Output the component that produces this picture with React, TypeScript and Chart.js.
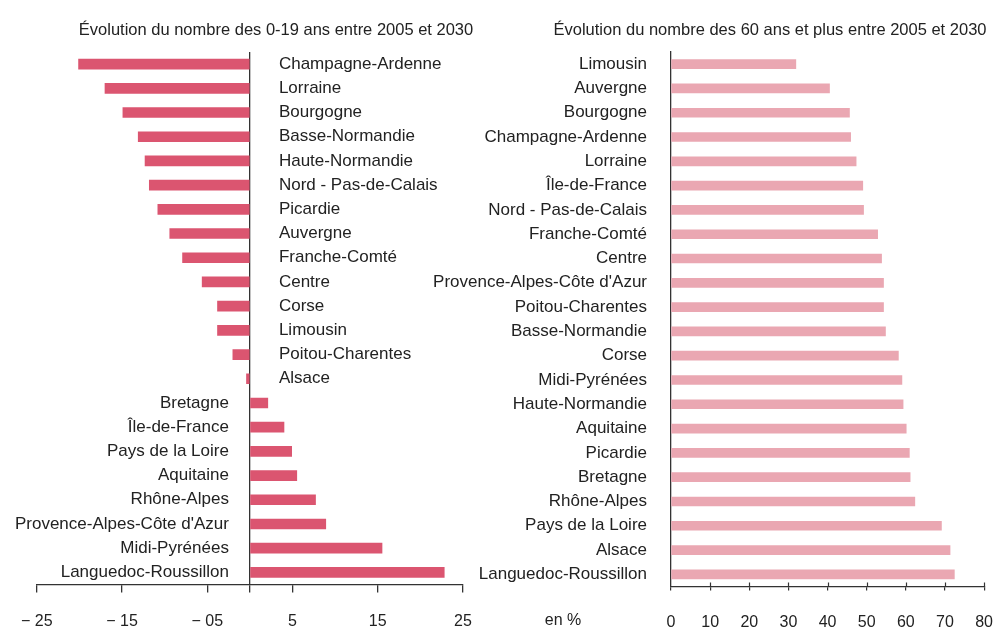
import React, { useEffect, useRef } from "react";
import { Chart, registerables } from "chart.js";

Chart.register(...registerables);

const youngTitle = "Évolution du nombre des 0-19 ans entre 2005 et 2030";
const youngRegions = [
  "Champagne-Ardenne", "Lorraine", "Bourgogne", "Basse-Normandie", "Haute-Normandie",
  "Nord - Pas-de-Calais", "Picardie", "Auvergne", "Franche-Comté", "Centre", "Corse",
  "Limousin", "Poitou-Charentes", "Alsace", "Bretagne", "Île-de-France", "Pays de la Loire",
  "Aquitaine", "Rhône-Alpes", "Provence-Alpes-Côte d'Azur", "Midi-Pyrénées", "Languedoc-Roussillon",
];
const youngValues = [
  -20.1, -17.0, -14.9, -13.1, -12.3, -11.8, -10.8, -9.4, -7.9, -5.6, -3.8,
  -3.8, -2.0, -0.4, 2.1, 4.0, 4.9, 5.5, 7.7, 8.9, 15.5, 22.8,
];
const youngTickValues = [-25, -15, -5, 0, 5, 15, 25];
const youngTickLabels = ["− 25", "− 15", "− 05", "", "5", "15", "25"];

const seniorTitle = "Évolution du nombre des 60 ans et plus entre 2005 et 2030";
const seniorRegions = [
  "Limousin", "Auvergne", "Bourgogne", "Champagne-Ardenne", "Lorraine", "Île-de-France",
  "Nord - Pas-de-Calais", "Franche-Comté", "Centre", "Provence-Alpes-Côte d'Azur",
  "Poitou-Charentes", "Basse-Normandie", "Corse", "Midi-Pyrénées", "Haute-Normandie",
  "Aquitaine", "Picardie", "Bretagne", "Rhône-Alpes", "Pays de la Loire", "Alsace",
  "Languedoc-Roussillon",
];
const seniorValues = [
  31.9, 40.5, 45.6, 45.9, 47.3, 49.0, 49.2, 52.8, 53.8, 54.3, 54.3,
  54.8, 58.1, 59.0, 59.3, 60.1, 60.9, 61.1, 62.3, 69.1, 71.3, 72.4,
];
const seniorTickValues = [0, 10, 20, 30, 40, 50, 60, 70, 80];
const unitLabel = "en %";

const FONT = '"Liberation Sans", Arial, Helvetica, sans-serif';
const TEXT = "#222222";
const AXIS = "#333333";

const titleAt = {
  id: "titleAt",
  afterDraw(chart: any, _a: any, opts: any) {
    const { ctx } = chart;
    ctx.save();
    ctx.font = `16.5px ${FONT}`;
    ctx.fillStyle = TEXT;
    ctx.textAlign = "center";
    ctx.textBaseline = "middle";
    ctx.fillText(opts.text, opts.x, opts.y);
    if (opts.unit) {
      ctx.font = `16px ${FONT}`;
      ctx.fillText(opts.unit, chart.chartArea.left + opts.unitDx, opts.unitY);
    }
    ctx.restore();
  },
};

const sideLabels = {
  id: "sideLabels",
  afterDatasetsDraw(chart: any) {
    const { ctx } = chart;
    const xs = chart.scales.x;
    const ys = chart.scales.y;
    const zero = xs.getPixelForValue(0);
    const labels = chart.data.labels as string[];
    const vals = chart.data.datasets[0].data as number[];
    ctx.save();
    ctx.font = `17px ${FONT}`;
    ctx.fillStyle = TEXT;
    ctx.textBaseline = "middle";
    labels.forEach((lab, i) => {
      const py = ys.getPixelForValue(i);
      if (vals[i] < 0) {
        ctx.textAlign = "left";
        ctx.fillText(lab, zero + 29, py);
      } else {
        ctx.textAlign = "right";
        ctx.fillText(lab, zero - 21, py);
      }
    });
    ctx.restore();
  },
};

const innerTicks = {
  id: "innerTicks",
  afterDraw(chart: any) {
    const { ctx } = chart;
    const xs = chart.scales.x;
    const bottom = chart.chartArea.bottom;
    ctx.save();
    ctx.strokeStyle = AXIS;
    ctx.lineWidth = 1.2;
    xs.ticks.forEach((t: any) => {
      if (t.value === 0) return;
      const px = Math.round(xs.getPixelForValue(t.value)) + 0.5;
      ctx.beginPath();
      ctx.moveTo(px, bottom - 4);
      ctx.lineTo(px, bottom);
      ctx.stroke();
    });
    ctx.restore();
  },
};

function YoungChart() {
  const ref = useRef<HTMLCanvasElement>(null);
  useEffect(() => {
    const chart = new Chart(ref.current as HTMLCanvasElement, {
      type: "bar",
      data: {
        labels: youngRegions,
        datasets: [
          {
            data: youngValues,
            backgroundColor: "#db5570",
            barThickness: 10,
          },
        ],
      },
      plugins: [titleAt, sideLabels],
      options: {
        indexAxis: "y",
        animation: false,
        responsive: false,
        maintainAspectRatio: false,
        layout: { padding: { left: 35, right: 89, top: 52, bottom: 0 } },
        plugins: {
          legend: { display: false },
          tooltip: { enabled: false },
          titleAt: { text: youngTitle, x: 276, y: 30 },
        } as any,
        scales: {
          y: { type: "category", display: false, offset: true },
          x: {
            type: "linear",
            min: -25,
            max: 25,
            afterBuildTicks: (s: any) => {
              s.ticks = youngTickValues.map((v) => ({ value: v }));
            },
            afterFit: (s: any) => {
              s.height = 43.5;
            },
            grid: {
              color: (c: any) => (c.tick && c.tick.value === 0 ? AXIS : "rgba(0,0,0,0)"),
              tickColor: AXIS,
              lineWidth: 1.3,
              tickLength: 8,
              drawTicks: true,
            },
            border: { display: true, color: AXIS, width: 1.3 },
            ticks: {
              autoSkip: false,
              maxRotation: 0,
              padding: 21,
              color: TEXT,
              font: { family: FONT, size: 16, lineHeight: 1 },
              callback: (_v: any, i: number) => youngTickLabels[i],
            },
          },
        },
      } as any,
    });
    return () => chart.destroy();
  }, []);
  return (
    <canvas
      ref={ref}
      width={552}
      height={628}
      style={{ position: "absolute", left: 0, top: 0, width: 552, height: 628 }}
    />
  );
}

function SeniorChart() {
  const ref = useRef<HTMLCanvasElement>(null);
  useEffect(() => {
    const chart = new Chart(ref.current as HTMLCanvasElement, {
      type: "bar",
      data: {
        labels: seniorRegions,
        datasets: [
          {
            data: seniorValues,
            backgroundColor: "#eaa7b2",
            barThickness: 9,
          },
        ],
      },
      plugins: [titleAt, innerTicks],
      options: {
        indexAxis: "y",
        animation: false,
        responsive: false,
        maintainAspectRatio: false,
        layout: { padding: { left: 0, right: 10, top: 52, bottom: 0 } },
        plugins: {
          legend: { display: false },
          tooltip: { enabled: false },
          titleAt: { text: seniorTitle, x: 370, y: 30, unit: unitLabel, unitDx: -108, unitY: 621 },
        } as any,
        scales: {
          y: {
            type: "category",
            offset: true,
            afterFit: (s: any) => {
              s.width = 271;
            },
            grid: { display: false, drawTicks: false },
            border: { display: true, color: AXIS, width: 1.3 },
            ticks: {
              padding: 24,
              color: TEXT,
              autoSkip: false,
              font: { family: FONT, size: 17 },
            },
          },
          x: {
            type: "linear",
            min: 0,
            max: 80,
            afterBuildTicks: (s: any) => {
              s.ticks = seniorTickValues.map((v) => ({ value: v }));
            },
            afterFit: (s: any) => {
              s.height = 41.5;
            },
            grid: {
              drawOnChartArea: false,
              color: AXIS,
              tickColor: AXIS,
              lineWidth: 1.2,
              tickLength: 4,
            },
            border: { display: true, color: AXIS, width: 1.3 },
            ticks: {
              autoSkip: false,
              maxRotation: 0,
              padding: 24,
              color: TEXT,
              font: { family: FONT, size: 16, lineHeight: 1 },
            },
          },
        },
      } as any,
    });
    return () => chart.destroy();
  }, []);
  return (
    <canvas
      ref={ref}
      width={617}
      height={628}
      style={{ position: "absolute", left: 400, top: 0, width: 617, height: 628 }}
    />
  );
}

export default function App() {
  return (
    <div
      style={{
        position: "absolute",
        left: 0,
        top: 0,
        width: 994,
        height: 628,
        background: "#ffffff",
        overflow: "hidden",
      }}
    >
      <YoungChart />
      <SeniorChart />
    </div>
  );
}
